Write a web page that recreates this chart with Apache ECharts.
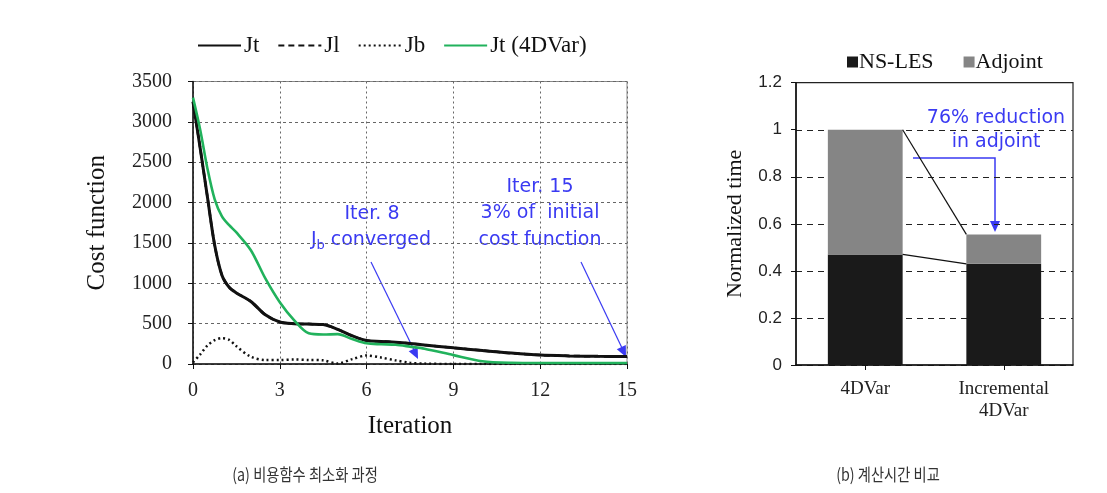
<!DOCTYPE html>
<html>
<head>
<meta charset="utf-8">
<script src="https://cdn.jsdelivr.net/npm/echarts@6/dist/echarts.min.js"></script>
<style>
html,body{margin:0;padding:0;background:#fff;}
#c{width:1107px;height:493px;}
</style>
</head>
<body>
<div id="c"></div>
<script>
// ---- Data: (a) cost function minimisation ----
const iterations = [0,0.25,0.5,0.75,1,1.25,1.5,2,2.5,3,3.5,4,4.5,5,5.5,6,6.5,7,7.5,8,9,10,11,12,13,14,15];
const jt     = [3250,2670,2065,1470,1100,950,880,775,610,520,500,495,488,430,350,290,280,268,255,235,200,168,135,110,100,95,92];
const jl     = [3250,2670,2065,1470,1100,950,880,775,610,520,500,495,488,430,350,290,280,268,255,235,200,168,135,110,100,95,92];
const jb     = [20,120,230,295,320,300,220,90,50,50,55,50,45,5,60,105,80,45,15,5,0,0,0,0,0,0,0];
const jt4dvar= [3300,2900,2420,2040,1830,1720,1630,1410,1060,765,540,380,365,370,310,256,245,238,215,190,110,35,15,12,12,12,12];
const lineNames = ['Jt','Jl','Jb','Jt (4DVar)'];
const xTicks = {min:0, max:15, interval:3};
const yTicks = {min:0, max:3500, interval:500};

// ---- Data: (b) computation time ----
const methods = ['4DVar','Incremental\n4DVar'];
const nsles   = [0.47, 0.43];
const adjoint = [0.53, 0.125];
const barNames = ['NS-LES','Adjoint'];
const timeTicks = {min:0, max:1.2, interval:0.2};

const pairs = (xs, ys) => xs.map((x,i)=>[x, ys[i]]);
const totals = nsles.map((v,i)=> +(v + adjoint[i]).toFixed(4));

const serif = 'Liberation Serif';
const blue = '#3a3af2';
const annFont = '19px "DejaVu Sans"';

function arrowHead(x0,y0,x1,y1,len,half){
  const dx=x1-x0, dy=y1-y0, L=Math.hypot(dx,dy), ux=dx/L, uy=dy/L;
  const bx=x1-ux*len, by=y1-uy*len;
  return [[x1,y1],[bx-uy*half,by+ux*half],[bx+uy*half,by-ux*half]];
}

const chart = echarts.init(document.getElementById('c'), null, {renderer:'canvas'});

const option = {
  backgroundColor:'#fff',
  animation:false,
  legend:[
    {
      data: lineNames, left: 192, top: 29, itemWidth: 43, itemHeight: 14, itemGap: 18,
      itemStyle:{opacity:0},
      textStyle:{fontFamily:serif, fontSize:23, color:'#111', padding:[0,0,0,-2]}
    },
    {
      data: barNames, left: 842, top: 46, icon:'rect', itemWidth: 11, itemHeight: 11, itemGap: 30,
      textStyle:{fontFamily:serif, fontSize:22, color:'#111', padding:[0,0,0,-4]}
    }
  ],
  grid:[
    {left:193, right:480, top:81.5, bottom:129, show:true, borderColor:'#888', borderWidth:1, containLabel:false},
    {left:796, right:34, top:82.7, bottom:128, show:true, borderColor:'#222', borderWidth:1.2, containLabel:false}
  ],
  xAxis:[
    {
      gridIndex:0, type:'value', min:xTicks.min, max:xTicks.max, interval:xTicks.interval,
      name:'Iteration', nameLocation:'middle', nameGap:50,
      nameTextStyle:{fontFamily:serif, fontSize:25, color:'#111'},
      axisLine:{lineStyle:{color:'#111', width:1.5}},
      axisTick:{show:true, inside:false, length:5, lineStyle:{color:'#111'}},
      axisLabel:{fontFamily:serif, fontSize:20, color:'#222', margin:17},
      splitLine:{show:true, lineStyle:{type:[2,3], color:'#666', width:1}}
    },
    {
      gridIndex:1, type:'category', data:methods,
      axisLine:{lineStyle:{color:'#111', width:1.5}},
      axisTick:{show:true, alignWithLabel:true, length:5, lineStyle:{color:'#111'}},
      axisLabel:{fontFamily:serif, fontSize:19, color:'#222', margin:13, lineHeight:22},
      splitLine:{show:false}
    }
  ],
  yAxis:[
    {
      gridIndex:0, type:'value', min:yTicks.min, max:yTicks.max, interval:yTicks.interval,
      name:'Cost function', nameLocation:'middle', nameGap:83,
      nameTextStyle:{fontFamily:serif, fontSize:25, color:'#111'},
      axisLine:{show:true, lineStyle:{color:'#111', width:1.5}},
      axisTick:{show:true, inside:false, length:5, lineStyle:{color:'#111'}},
      axisLabel:{fontFamily:serif, fontSize:20, color:'#222', margin:21, formatter:v=>String(v)},
      splitLine:{show:true, lineStyle:{type:[3,3], color:'#666', width:1}}
    },
    {
      gridIndex:1, type:'value', min:timeTicks.min, max:timeTicks.max, interval:timeTicks.interval,
      name:'Normalized time', nameLocation:'middle', nameGap:50,
      nameTextStyle:{fontFamily:serif, fontSize:22, color:'#111'},
      axisLine:{show:true, lineStyle:{color:'#111', width:1.5}},
      axisTick:{show:true, inside:false, length:5, lineStyle:{color:'#111'}},
      axisLabel:{fontFamily:'Liberation Sans', fontSize:17, color:'#222', margin:14, formatter:v=>String(v)},
      splitLine:{show:true, lineStyle:{type:[6,5], color:'#222', width:1.2}}
    }
  ],
  series:[
    {name:'Jl', type:'line', xAxisIndex:0, yAxisIndex:0, data:pairs(iterations,jl), smooth:0.3, symbol:'none',
     lineStyle:{color:'#111', width:2.5, type:[6,4]}, itemStyle:{color:'#111'}, z:2},
    {name:'Jb', type:'line', xAxisIndex:0, yAxisIndex:0, data:pairs(iterations,jb), smooth:0.3, symbol:'none',
     lineStyle:{color:'#111', width:2.5, type:[2,3]}, itemStyle:{color:'#111'}, z:3},
    {name:'Jt', type:'line', xAxisIndex:0, yAxisIndex:0, data:pairs(iterations,jt), smooth:0.3, symbol:'none',
     lineStyle:{color:'#111', width:3}, itemStyle:{color:'#111'}, z:4},
    {name:'Jt (4DVar)', type:'line', xAxisIndex:0, yAxisIndex:0, data:pairs(iterations,jt4dvar), smooth:0.3, symbol:'none',
     lineStyle:{color:'#21b25c', width:2.6}, itemStyle:{color:'#21b25c'}, z:5},
    {name:'NS-LES', type:'bar', xAxisIndex:1, yAxisIndex:1, stack:'t', data:nsles, barWidth:'54%',
     itemStyle:{color:'#1a1a1a'}},
    {name:'Adjoint', type:'bar', xAxisIndex:1, yAxisIndex:1, stack:'t', data:adjoint, barWidth:'54%',
     itemStyle:{color:'#858585'}},
    {
      name:'series-lines', type:'custom', xAxisIndex:1, yAxisIndex:1, silent:true, z:6,
      data:[[0, nsles[0], totals[0], nsles[1], totals[1]]],
      renderItem:function(params, api){
        const hw = api.size([1,0])[0]*0.27;
        const a1 = api.coord([0, api.value(1)]), a2 = api.coord([0, api.value(2)]);
        const b1 = api.coord([1, api.value(3)]), b2 = api.coord([1, api.value(4)]);
        const st = {stroke:'#111', lineWidth:1.2};
        return {type:'group', children:[
          {type:'line', shape:{x1:a1[0]+hw, y1:a1[1], x2:b1[0]-hw, y2:b1[1]}, style:st},
          {type:'line', shape:{x1:a2[0]+hw, y1:a2[1], x2:b2[0]-hw, y2:b2[1]}, style:st}
        ]};
      }
    }
  ],
  graphic:[
    // annotation (a) Iter. 8
    {type:'text', x:372, y:214, style:{text:'Iter. 8', fill:blue, font:annFont, align:'center', verticalAlign:'middle'}},
    {type:'text', x:371, y:240, style:{
      text:'{n|J}{s|b}{n| converged}', align:'center', verticalAlign:'middle', fill:blue,
      rich:{
        n:{fontFamily:'DejaVu Sans', fontSize:19, fill:blue, lineHeight:24, verticalAlign:'middle'},
        s:{fontFamily:'DejaVu Sans', fontSize:13, fill:blue, lineHeight:13, verticalAlign:'bottom'}
      }
    }},
    {type:'line', shape:{x1:371, y1:262, x2:414, y2:350}, style:{stroke:blue, lineWidth:1.2}},
    {type:'polygon', shape:{points:arrowHead(371,262,418,359,11,5)}, style:{fill:blue}},
    // annotation (a) Iter. 15
    {type:'text', x:540, y:187, style:{text:'Iter. 15', fill:blue, font:annFont, align:'center', verticalAlign:'middle'}},
    {type:'text', x:540, y:213, style:{text:'3% of  initial', fill:blue, font:annFont, align:'center', verticalAlign:'middle'}},
    {type:'text', x:540, y:240, style:{text:'cost function', fill:blue, font:annFont, align:'center', verticalAlign:'middle'}},
    {type:'line', shape:{x1:581, y1:262, x2:622, y2:348}, style:{stroke:blue, lineWidth:1.2}},
    {type:'polygon', shape:{points:arrowHead(581,262,626,357,11,5)}, style:{fill:blue}},
    // annotation (b)
    {type:'text', x:996, y:118, style:{text:'76% reduction', fill:blue, font:annFont, align:'center', verticalAlign:'middle'}},
    {type:'text', x:996, y:142, style:{text:'in adjoint', fill:blue, font:annFont, align:'center', verticalAlign:'middle'}},
    {type:'polyline', shape:{points:[[913,158],[995,158],[995,222]]}, style:{stroke:blue, lineWidth:1.5, fill:null}},
    {type:'polygon', shape:{points:arrowHead(995,158,995,232,11,5)}, style:{fill:blue}},
    // captions
    {type:'text', x:305, y:475, scaleX:0.84, originX:0, originY:0, style:{text:'(a) 비용함수 최소화 과정', fill:'#333', font:'17px "Noto Sans CJK KR"', align:'center', verticalAlign:'middle'}},
    {type:'text', x:888, y:475, scaleX:0.84, originX:0, originY:0, style:{text:'(b) 계산시간 비교', fill:'#333', font:'17px "Noto Sans CJK KR"', align:'center', verticalAlign:'middle'}}
  ]
};
chart.setOption(option);
</script>
</body>
</html>
